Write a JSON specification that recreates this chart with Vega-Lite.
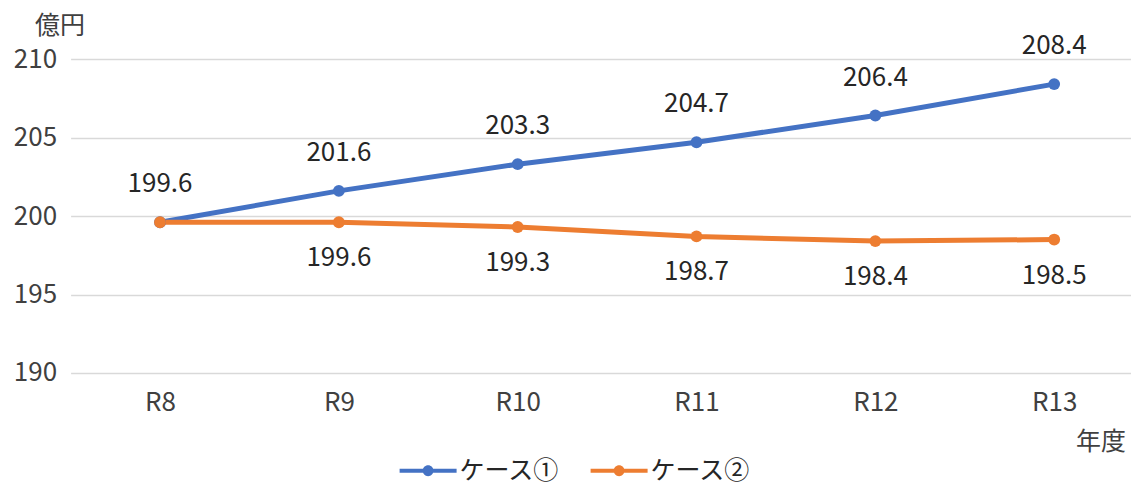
{
  "$schema": "https://vega.github.io/schema/vega-lite/v6.json",
  "width": 1073,
  "height": 314,
  "autosize": "none",
  "padding": {"left": 70.6, "top": 59, "right": 0, "bottom": 114},
  "background": "white",
  "config": {
    "view": {"stroke": null},
    "font": "Noto Sans CJK JP",
    "axis": {"labelFont": "Noto Sans CJK JP", "titleFont": "Noto Sans CJK JP", "labelColor": "#404040", "titleColor": "#404040", "titleFontWeight": "normal"}
  },
  "data": {
    "values": [
      {"year": "R8", "case": "ケース①", "value": 199.6, "show": true},
      {"year": "R9", "case": "ケース①", "value": 201.6, "show": true},
      {"year": "R10", "case": "ケース①", "value": 203.3, "show": true},
      {"year": "R11", "case": "ケース①", "value": 204.7, "show": true},
      {"year": "R12", "case": "ケース①", "value": 206.4, "show": true},
      {"year": "R13", "case": "ケース①", "value": 208.4, "show": true},
      {"year": "R8", "case": "ケース②", "value": 199.6, "show": false},
      {"year": "R9", "case": "ケース②", "value": 199.6, "show": true},
      {"year": "R10", "case": "ケース②", "value": 199.3, "show": true},
      {"year": "R11", "case": "ケース②", "value": 198.7, "show": true},
      {"year": "R12", "case": "ケース②", "value": 198.4, "show": true},
      {"year": "R13", "case": "ケース②", "value": 198.5, "show": true}
    ]
  },
  "encoding": {
    "x": {
      "field": "year", "type": "ordinal",
      "scale": {"type": "point", "domain": ["R8", "R9", "R10", "R11", "R12", "R13"], "padding": 0.5},
      "axis": {"title": "年度", "labelAngle": 0, "labelFontSize": 26, "labelPadding": 17, "ticks": false, "domain": false, "grid": false,
        "titleFontSize": 25, "titleX": 1030, "titleY": 69, "titleAnchor": null, "titleAlign": "center", "titleBaseline": "middle"}
    },
    "y": {
      "field": "value", "type": "quantitative",
      "scale": {"domain": [190, 210], "nice": false, "zero": false},
      "axis": {"title": "億円", "values": [190, 195, 200, 205, 210], "labelFontSize": 26, "labelPadding": 14, "ticks": false, "domain": false,
        "grid": true, "gridColor": "#d9d9d9", "gridWidth": 1.5,
        "titleFontSize": 25, "titleAngle": 0, "titleX": -11, "titleY": -26, "titleAlign": "center", "titleBaseline": "alphabetic"}
    },
    "color": {
      "field": "case", "type": "nominal",
      "scale": {"domain": ["ケース①", "ケース②"], "range": ["#4472C4", "#ED7D31"]},
      "legend": {
        "title": null, "orient": "none", "direction": "horizontal",
        "legendX": 329, "legendY": 383,
        "symbolType": "M-1,-0.07H1V0.07H-1Z M0.19,0 A0.19,0.19 0 1,1 -0.19,0 A0.19,0.19 0 1,1 0.19,0Z",
        "symbolSize": 3249, "symbolStrokeWidth": 0, "symbolOpacity": 1,
        "labelFontSize": 25, "labelColor": "#262626", "labelFont": "Noto Sans CJK JP", "labelOffset": 3,
        "columnPadding": 30,
        "encode": {
          "symbols": {"update": {"fill": {"scale": "color", "field": "value"}, "stroke": {"value": "transparent"}, "strokeWidth": {"value": 0}}}
        }
      }
    }
  },
  "layer": [
    {
      "mark": {"type": "line", "strokeWidth": 5, "strokeCap": "round"}
    },
    {
      "mark": {"type": "point", "filled": true, "size": 140, "opacity": 1}
    },
    {
      "transform": [{"filter": "datum.case === 'ケース①'"}],
      "mark": {"type": "text", "dy": -38, "fontSize": 26, "color": "#262626", "font": "Noto Sans CJK JP"},
      "encoding": {"text": {"field": "value", "type": "quantitative", "format": ".1f"}, "color": {"value": "#262626"}}
    },
    {
      "transform": [{"filter": "datum.case === 'ケース②' && datum.show"}],
      "mark": {"type": "text", "dy": 36, "fontSize": 26, "color": "#262626", "font": "Noto Sans CJK JP"},
      "encoding": {"text": {"field": "value", "type": "quantitative", "format": ".1f"}, "color": {"value": "#262626"}}
    }
  ]
}
